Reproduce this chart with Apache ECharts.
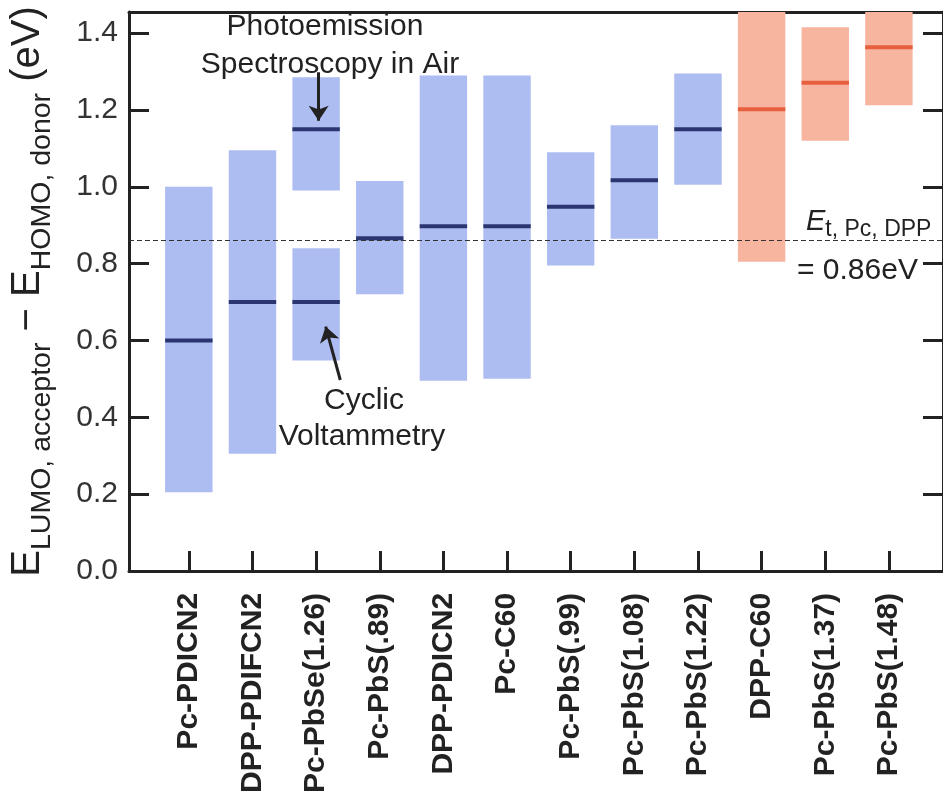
<!DOCTYPE html>
<html><head><meta charset="utf-8">
<script src="https://cdn.jsdelivr.net/npm/echarts@6/dist/echarts.min.js"></script>
<style>html,body{margin:0;padding:0;background:#fff}#c{width:943px;height:796px}</style>
</head><body><div id="c"></div>
<script>
// ---- data ----
const categories = ['Pc-PDICN2','DPP-PDIFCN2','Pc-PbSe(1.26)','Pc-PbS(.89)','DPP-PDICN2','Pc-C60','Pc-PbS(.99)','Pc-PbS(1.08)','Pc-PbS(1.22)','DPP-C60','Pc-PbS(1.37)','Pc-PbS(1.48)'];
// photoemission / main ranges
const rangeLow   = [0.205, 0.305, 0.99, 0.72, 0.495, 0.50, 0.795, 0.865, 1.005, 0.805, 1.12, 1.212];
const rangeHigh  = [1.00, 1.095, 1.285, 1.015, 1.29, 1.29, 1.09, 1.16, 1.295, 1.50, 1.415, 1.50];
const centerVal  = [0.60, 0.70, 1.15, 0.866, 0.897, 0.897, 0.948, 1.017, 1.15, 1.202, 1.271, 1.363];
// cyclic voltammetry entry
const cvCategory = ['Pc-PbSe(1.26)'];
const cvLow = [0.548];
const cvHigh = [0.84];
const cvCenter = [0.70];
// acceptor group drawn in red
const redGroup = ['DPP-C60','Pc-PbS(1.37)','Pc-PbS(1.48)'];
const thresholdEt = 0.86;
const yTicks = [0, 0.2, 0.4, 0.6, 0.8, 1.0, 1.2, 1.4];
// annotation arrows [ [xIndex, y] tail, [xIndex, y] tip ]
const arrowPES = [[2.04, 1.298], [2.04, 1.172]];
const arrowCV  = [[2.38, 0.497], [2.15, 0.636]];

// ---- build ----
const FONT = '"Liberation Sans", Arial, Helvetica, sans-serif';
const boxData = categories.map((c, i) => [i, rangeLow[i], rangeHigh[i], centerVal[i], redGroup.includes(c) ? 1 : 0]);
cvCategory.forEach((c, k) => boxData.push([categories.indexOf(c), cvLow[k], cvHigh[k], cvCenter[k], redGroup.includes(c) ? 1 : 0]));
const catIdx = categories.map((c, i) => i);

function renderItem(params, api) {
  const x = api.value(0), lo = api.value(1), hi = api.value(2), c = api.value(3), red = api.value(4);
  const pTop = api.coord([x, hi]);
  const pBot = api.coord([x, lo]);
  const pC = api.coord([x, c]);
  const w = api.size([0.745, 0])[0];
  return {
    type: 'group',
    children: [
      { type: 'rect', shape: { x: pTop[0] - w / 2, y: pTop[1], width: w, height: pBot[1] - pTop[1] },
        style: { fill: red ? '#f7b5a0' : '#adbcf1' } },
      { type: 'rect', shape: { x: pC[0] - w / 2, y: pC[1] - 2, width: w, height: 4 },
        style: { fill: red ? '#e6603e' : '#2b3670' } }
    ]
  };
}

const axisCol = '#222';
const chart = echarts.init(document.getElementById('c'), null, { renderer: 'canvas' });
chart.setOption({
  animation: false,
  backgroundColor: '#fff',
  grid: { left: 123, right: -5, top: 12, bottom: 221, containLabel: false },
  xAxis: [{
    type: 'value', min: -0.94, max: 11.85, position: 'bottom',
    splitLine: { show: false },
    axisLine: { show: true, onZero: false, lineStyle: { color: axisCol, width: 3 } },
    axisTick: { show: true, inside: true, length: 20, lineStyle: { color: axisCol, width: 3 }, customValues: catIdx },
    axisLabel: {
      customValues: catIdx, rotate: 90, margin: 22,
      formatter: v => categories[Math.round(v)] || '',
      fontFamily: FONT, fontWeight: 'bold', fontSize: 30, color: '#222'
    }
  }, {
    type: 'value', min: -0.94, max: 11.85, position: 'top',
    splitLine: { show: false },
    axisLine: { show: true, onZero: false, lineStyle: { color: axisCol, width: 3 } },
    axisTick: { show: false }, axisLabel: { show: false }
  }],
  yAxis: [{
    type: 'value', min: 0, max: 1.455, position: 'left',
    splitLine: { show: false },
    axisLine: { show: true, onZero: false, lineStyle: { color: axisCol, width: 3 } },
    axisTick: { show: true, inside: true, length: 20, lineStyle: { color: axisCol, width: 3 }, customValues: yTicks },
    axisLabel: { customValues: yTicks, formatter: v => v.toFixed(1), fontFamily: FONT, fontSize: 30, color: '#333', margin: 11 },
    name: '{e|E}{s|LUMO, acceptor}{e| − E}{s|HOMO, donor}{e| (eV)}',
    nameLocation: 'middle', nameRotate: 90, nameGap: 72,
    nameTextStyle: {
      padding: [0, 0, 0, 0],
      rich: {
        e: { fontFamily: FONT, fontSize: 40, color: '#222', verticalAlign: 'bottom', padding: [0, 0, 9, 0] },
        s: { fontFamily: FONT, fontSize: 28.5, color: '#222', verticalAlign: 'bottom' }
      }
    }
  }, {
    type: 'value', min: 0, max: 1.455, position: 'right',
    splitLine: { show: false },
    axisLine: { show: true, onZero: false, lineStyle: { color: axisCol, width: 3 } },
    axisTick: { show: true, inside: true, length: 20, lineStyle: { color: axisCol, width: 3 }, customValues: yTicks },
    axisLabel: { show: false }
  }],
  series: [{
    type: 'custom', renderItem: renderItem, clip: true,
    encode: { x: 0, y: [1, 2] },
    data: boxData, z: 2
  }, {
    type: 'line', data: [], z: 3,
    markLine: {
      silent: true, symbol: ['none', 'none'], label: { show: false },
      lineStyle: { type: [5, 3], color: '#333', width: 1 },
      data: [{ yAxis: thresholdEt }]
    }
  }, {
    type: 'lines', coordinateSystem: 'cartesian2d', z: 4,
    symbol: ['none', 'arrow'], symbolSize: 15,
    lineStyle: { color: '#222', width: 3, opacity: 1, curveness: 0 },
    data: [{ coords: arrowPES }, { coords: arrowCV }]
  }],
  graphic: [
    { type: 'text', x: 325, y: 27, style: { text: 'Photoemission', font: '30px ' + FONT, fill: '#222', align: 'center', verticalAlign: 'middle' } },
    { type: 'text', x: 330, y: 65, style: { text: 'Spectroscopy in Air', font: '30px ' + FONT, fill: '#222', align: 'center', verticalAlign: 'middle' } },
    { type: 'text', x: 364, y: 401, style: { text: 'Cyclic', font: '30px ' + FONT, fill: '#222', align: 'center', verticalAlign: 'middle' } },
    { type: 'text', x: 362, y: 437, style: { text: 'Voltammetry', font: '30px ' + FONT, fill: '#222', align: 'center', verticalAlign: 'middle' } },
    { type: 'text', x: 806, y: 241, style: {
        text: '{e|E}{s|t, Pc, DPP}', align: 'left', verticalAlign: 'bottom',
        rich: {
          e: { fontFamily: FONT, fontSize: 29, fontStyle: 'italic', fill: '#222', color: '#222', verticalAlign: 'bottom', padding: [0, 0, 5, 0] },
          s: { fontFamily: FONT, fontSize: 23, fill: '#222', color: '#222', verticalAlign: 'bottom' }
        } } },
    { type: 'text', x: 797, y: 271, style: { text: '= 0.86eV', font: '30px ' + FONT, fill: '#222', align: 'left', verticalAlign: 'middle' } }
  ]
});
</script>
</body></html>
